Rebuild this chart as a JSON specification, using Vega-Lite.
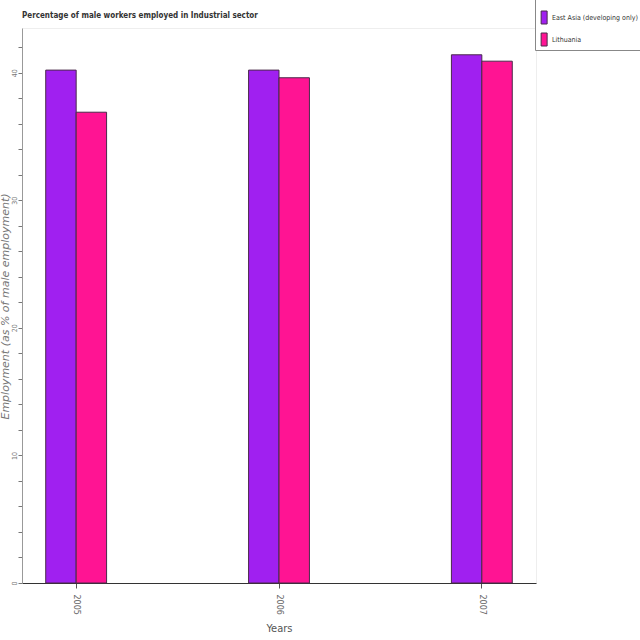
{
  "$schema": "https://vega.github.io/schema/vega-lite/v6.json",
  "width": 514,
  "height": 555,
  "autosize": {"type": "none"},
  "padding": {"left": 22, "top": 28, "right": 104, "bottom": 57},
  "background": "white",
  "title": {
    "text": "Percentage of male workers employed in Industrial sector",
    "anchor": "start",
    "frame": "group",
    "font": "DejaVu Sans Condensed",
    "fontSize": 8,
    "fontWeight": "bold",
    "color": "#333333",
    "offset": -22
  },
  "data": {
    "values": [
      {"year": "2005", "country": "East Asia (developing only)", "value": 40.2},
      {"year": "2005", "country": "Lithuania", "value": 36.9},
      {"year": "2006", "country": "East Asia (developing only)", "value": 40.2},
      {"year": "2006", "country": "Lithuania", "value": 39.6},
      {"year": "2007", "country": "East Asia (developing only)", "value": 41.4},
      {"year": "2007", "country": "Lithuania", "value": 40.9}
    ]
  },
  "config": {
    "view": {"stroke": "#eeeeee", "strokeWidth": 1}
  },
  "mark": {"type": "bar", "stroke": "#4a2a4a", "strokeWidth": 1},
  "encoding": {
    "x": {
      "field": "year",
      "type": "nominal",
      "scale": {"paddingInner": 0.7, "paddingOuter": 0.117},
      "axis": {
        "title": "Years",
        "titleFont": "DejaVu Sans Condensed",
        "titleFontSize": 11,
        "titleFontWeight": "normal",
        "titleColor": "#555555",
        "titlePadding": 8,
        "labelAngle": 90,
        "labelFont": "DejaVu Sans",
        "labelFontSize": 8,
        "labelColor": "#666666",
        "labelPadding": 6,
        "domainColor": "#333333",
        "domainWidth": 1,
        "tickColor": "#555555",
        "tickSize": 5
      }
    },
    "xOffset": {"field": "country", "type": "nominal"},
    "y": {
      "field": "value",
      "type": "quantitative",
      "scale": {"domain": [0, 43.5], "nice": false},
      "axis": {
        "title": "Employment (as % of male employment)",
        "titleFont": "DejaVu Sans",
        "titleFontStyle": "italic",
        "titleFontWeight": "normal",
        "titleFontSize": 11,
        "titleColor": "#777777",
        "titleX": -17,
        "titleY": 278,
        "titleAlign": "center",
        "titleBaseline": "middle",
        "values": [0, 2, 4, 6, 8, 10, 12, 14, 16, 18, 20, 22, 24, 26, 28, 30, 32, 34, 36, 38, 40, 42],
        "labelExpr": "datum.value % 10 == 0 ? datum.label : ''",
        "labelAngle": -90,
        "labelFont": "DejaVu Sans Condensed",
        "labelFontSize": 7,
        "labelColor": "#777777",
        "labelPadding": 1,
        "domainColor": "#999999",
        "tickColor": "#777777",
        "tickSize": 4,
        "grid": false
      }
    },
    "color": {
      "field": "country",
      "type": "nominal",
      "scale": {"range": ["#A020F0", "#FF1493"]},
      "legend": {
        "title": " ",
        "titleFontSize": 4,
        "titlePadding": 0,
        "orient": "none",
        "legendX": 513,
        "legendY": -30,
        "symbolType": "M-0.72,-0.5 L-0.26,-0.5 L-0.26,0.5 L-0.72,0.5 Z",
        "symbolSize": 676,
        "symbolStrokeColor": "#4a2a4a",
        "symbolStrokeWidth": 1,
        "labelFont": "DejaVu Sans Condensed",
        "labelFontSize": 7,
        "labelColor": "#333333",
        "labelLimit": 200,
        "labelOffset": -12,
        "rowPadding": -6.5,
        "strokeColor": "#888888",
        "padding": 2,
        "fillColor": "white"
      }
    }
  }
}
